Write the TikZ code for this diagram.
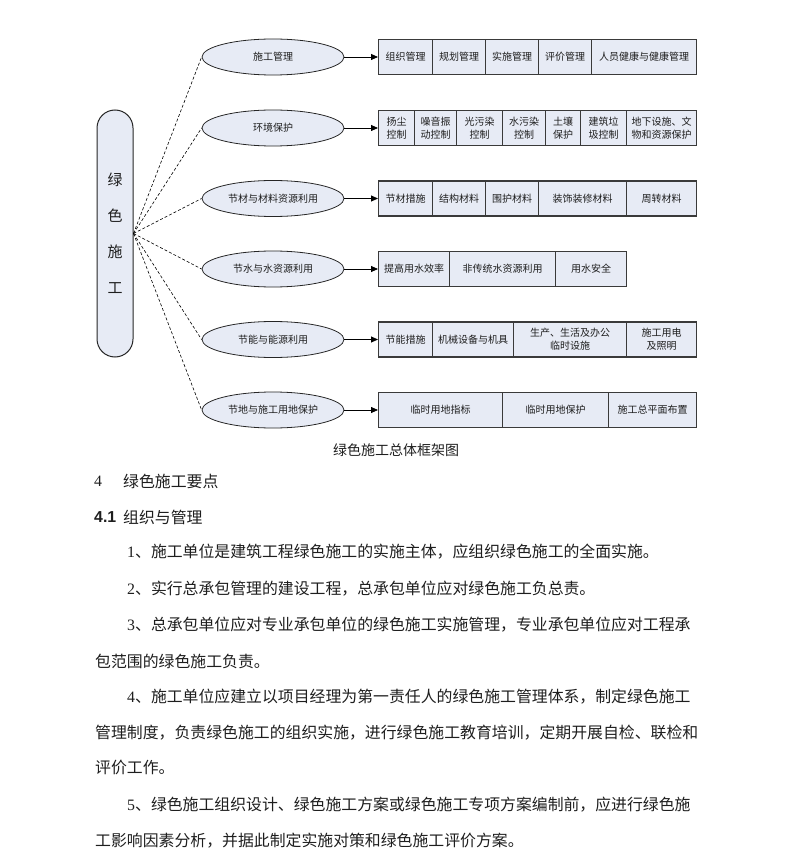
\documentclass[tikz,border=0pt]{standalone}
\usepackage{fontspec}
\setmainfont{Liberation Serif}
\newfontfamily\cjk{Noto Sans CJK SC}
\newfontfamily\lsans{Liberation Sans}
\usetikzlibrary{arrows.meta,shapes.geometric}
\definecolor{boxfill}{HTML}{E7EBF5}
\definecolor{boxline}{HTML}{3A3A3A}
\definecolor{ink}{HTML}{1E1E1E}
\begin{document}
\begin{tikzpicture}[x=1pt,y=-1pt,
  cell/.style={draw=boxline,fill=boxfill,line width=1.3pt,minimum height=35pt,inner sep=0pt,
    font=\cjk\fontsize{10}{13}\selectfont,align=center,anchor=west,text=ink},
  oval/.style={ellipse,draw=black!85,fill=boxfill,line width=0.8pt,minimum width=142pt,
    minimum height=36pt,inner sep=0pt,font=\cjk\fontsize{10}{12}\selectfont,text=ink},
  link/.style={densely dashed,line width=0.6pt},
  feed/.style={-{Triangle[length=7pt,width=6pt]},line width=0.8pt},
  body/.style={anchor=west,inner sep=0pt,font=\cjk\fontsize{15.87}{16}\selectfont,text=ink}
]
\useasboundingbox (0,0) rectangle (794,866);

% root pill
\node[draw=black!85,fill=boxfill,rounded corners=18pt,minimum width=36pt,minimum height=247pt,
  line width=1pt,inner sep=0pt,align=center,font=\cjk\fontsize{15}{36}\selectfont,text=ink]
  (root) at (115,233.5) {绿\\色\\施\\工};

% ellipses
\node[oval] (e1) at (273,57) {施工管理};
\node[oval] (e2) at (273,128) {环境保护};
\node[oval] (e3) at (273,198.5) {节材与材料资源利用};
\node[oval] (e4) at (273,269) {节水与水资源利用};
\node[oval] (e5) at (273,339.5) {节能与能源利用};
\node[oval] (e6) at (273,410) {节地与施工用地保护};

\foreach \e in {e1,e2,e3,e4,e5,e6} \draw[link] (root.east) -- (\e.west);

% row 1
\node[cell,minimum width=54pt] (a1) at (378,57) {组织管理};
\node[cell,minimum width=53pt] (a2) at (432,57) {规划管理};
\node[cell,minimum width=53pt] (a3) at (485,57) {实施管理};
\node[cell,minimum width=53pt] (a4) at (538,57) {评价管理};
\node[cell,minimum width=105pt] (a5) at (591,57) {人员健康与健康管理};
% row 2
\node[cell,minimum width=36pt] (b1) at (378,128) {扬尘\\控制};
\node[cell,minimum width=42pt] (b2) at (414,128) {噪音振\\动控制};
\node[cell,minimum width=46pt] (b3) at (456,128) {光污染\\控制};
\node[cell,minimum width=43pt] (b4) at (502,128) {水污染\\控制};
\node[cell,minimum width=35pt] (b5) at (545,128) {土壤\\保护};
\node[cell,minimum width=46pt] (b6) at (580,128) {建筑垃\\圾控制};
\node[cell,minimum width=70pt] (b7) at (626,128) {地下设施、文\\物和资源保护};
% row 3
\node[cell,minimum width=54pt] (c1) at (378,198.5) {节材措施};
\node[cell,minimum width=53pt] (c2) at (432,198.5) {结构材料};
\node[cell,minimum width=53pt] (c3) at (485,198.5) {围护材料};
\node[cell,minimum width=88pt] (c4) at (538,198.5) {装饰装修材料};
\node[cell,minimum width=70pt] (c5) at (626,198.5) {周转材料};
% row 4
\node[cell,minimum width=71pt] (d1) at (378,269) {提高用水效率};
\node[cell,minimum width=106pt] (d2) at (449,269) {非传统水资源利用};
\node[cell,minimum width=71pt] (d3) at (555,269) {用水安全};
% row 5
\node[cell,minimum width=54pt] (f1) at (378,339.5) {节能措施};
\node[cell,minimum width=81pt] (f2) at (432,339.5) {机械设备与机具};
\node[cell,minimum width=113pt] (f3) at (513,339.5) {生产、生活及办公\\临时设施};
\node[cell,minimum width=70pt] (f4) at (626,339.5) {施工用电\\及照明};
% row 6
\node[cell,minimum width=124pt] (g1) at (378,410) {临时用地指标};
\node[cell,minimum width=106pt] (g2) at (502,410) {临时用地保护};
\node[cell,minimum width=88pt] (g3) at (608,410) {施工总平面布置};

\draw[feed] (e1.east) -- (a1.west);
\draw[feed] (e2.east) -- (b1.west);
\draw[feed] (e3.east) -- (c1.west);
\draw[feed] (e4.east) -- (d1.west);
\draw[feed] (e5.east) -- (f1.west);
\draw[feed] (e6.east) -- (g1.west);

% caption
\node[inner sep=0pt,font=\cjk\fontsize{14}{14}\selectfont,text=ink] (cap) at (396,450) {绿色施工总体框架图};

% text
\node[body] (h4) at (94,481) {\rmfamily 4};
\node[body] (h4t) at (123,481) {绿色施工要点};
\node[body] (h41) at (94,517) {\lsans\bfseries 4.1};
\node[body] (h41t) at (123,517) {组织与管理};

\node[body] (p1) at (127,552) {{\rmfamily 1}、施工单位是建筑工程绿色施工的实施主体，应组织绿色施工的全面实施。};
\node[body] (p2) at (127,589) {{\rmfamily 2}、实行总承包管理的建设工程，总承包单位应对绿色施工负总责。};
\node[body] (p3a) at (127,625) {{\rmfamily 3}、总承包单位应对专业承包单位的绿色施工实施管理，专业承包单位应对工程承};
\node[body] (p3b) at (95,661) {包范围的绿色施工负责。};
\node[body] (p4a) at (127,697) {{\rmfamily 4}、施工单位应建立以项目经理为第一责任人的绿色施工管理体系，制定绿色施工};
\node[body] (p4b) at (95,733) {管理制度，负责绿色施工的组织实施，进行绿色施工教育培训，定期开展自检、联检和};
\node[body] (p4c) at (95,768) {评价工作。};
\node[body] (p5a) at (127,805) {{\rmfamily 5}、绿色施工组织设计、绿色施工方案或绿色施工专项方案编制前，应进行绿色施};
\node[body] (p5b) at (95,841) {工影响因素分析，并据此制定实施对策和绿色施工评价方案。};
\end{tikzpicture}
\end{document}
